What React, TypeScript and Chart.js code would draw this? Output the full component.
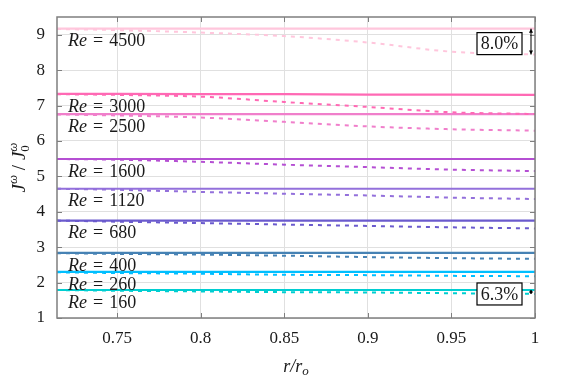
import React, { useEffect, useRef } from "react";
import { Chart, registerables } from "chart.js";

Chart.register(...registerables);

// ---- data ----
const radius = [0.714, 0.75, 0.8, 0.85, 0.9, 0.95, 1.0];
const reynolds = ["4500", "3000", "2500", "1600", "1120", "680", "400", "260", "160"];
const lineColors = ["#ffc6dc", "#ff69b4", "#f07fcb", "#b54fd3", "#9370db", "#6a5acd", "#4682b4", "#00bfff", "#00ced1"];

const solid4500 = [9.17, 9.17, 9.17, 9.17, 9.17, 9.17, 9.17];
const solid3000 = [7.33, 7.33, 7.32, 7.32, 7.31, 7.31, 7.30];
const solid2500 = [6.76, 6.76, 6.76, 6.76, 6.76, 6.76, 6.76];
const solid1600 = [5.49, 5.49, 5.49, 5.49, 5.49, 5.49, 5.49];
const solid1120 = [4.65, 4.65, 4.65, 4.65, 4.65, 4.65, 4.65];
const solid680 = [3.75, 3.75, 3.75, 3.75, 3.75, 3.75, 3.75];
const solid400 = [2.84, 2.84, 2.84, 2.84, 2.84, 2.84, 2.84];
const solid260 = [2.30, 2.30, 2.30, 2.30, 2.30, 2.30, 2.30];
const solid160 = [1.79, 1.79, 1.79, 1.79, 1.79, 1.79, 1.79];

const dashed4500 = [9.16, 9.13, 9.06, 8.96, 8.78, 8.52, 8.44];
const dashed3000 = [7.32, 7.30, 7.25, 7.10, 6.96, 6.81, 6.76];
const dashed2500 = [6.75, 6.72, 6.66, 6.54, 6.41, 6.33, 6.29];
const dashed1600 = [5.49, 5.47, 5.41, 5.33, 5.26, 5.19, 5.15];
const dashed1120 = [4.65, 4.62, 4.56, 4.51, 4.46, 4.40, 4.36];
const dashed680 = [3.75, 3.72, 3.68, 3.64, 3.60, 3.56, 3.53];
const dashed400 = [2.83, 2.81, 2.79, 2.76, 2.72, 2.69, 2.67];
const dashed260 = [2.29, 2.27, 2.25, 2.22, 2.21, 2.19, 2.18];
const dashed160 = [1.79, 1.77, 1.75, 1.73, 1.72, 1.70, 1.68];

const solidSeries = [solid4500, solid3000, solid2500, solid1600, solid1120, solid680, solid400, solid260, solid160];
const dashedSeries = [dashed4500, dashed3000, dashed2500, dashed1600, dashed1120, dashed680, dashed400, dashed260, dashed160];

const yTicks = [1, 2, 3, 4, 5, 6, 7, 8, 9];
const xTicks = [0.75, 0.8, 0.85, 0.9, 0.95, 1];
const xTickLabels = ["0.75", "0.8", "0.85", "0.9", "0.95", "1"];

// annotations: [series index, text]
const dropNotes: [number, string][] = [
  [0, "8.0%"],
  [8, "6.3%"],
];

const SERIF = '"Liberation Serif", "DejaVu Serif", serif';

const overlay = {
  id: "overlay",
  afterDraw(chart: any) {
    const ctx = chart.ctx as CanvasRenderingContext2D;
    const { left, right, top, bottom } = chart.chartArea;
    const xs = chart.scales.x;
    const ys = chart.scales.y;
    ctx.save();

    // box
    ctx.strokeStyle = "#7f7f7f";
    ctx.lineWidth = 1.5;
    ctx.strokeRect(left, top, right - left, bottom - top);
    // inward ticks
    ctx.lineWidth = 1;
    ctx.beginPath();
    yTicks.forEach((v) => {
      const y = Math.round(ys.getPixelForValue(v)) + 0.5;
      ctx.moveTo(left, y); ctx.lineTo(left + 5, y);
      ctx.moveTo(right, y); ctx.lineTo(right - 5, y);
    });
    xTicks.forEach((v) => {
      const x = Math.round(xs.getPixelForValue(v)) + 0.5;
      ctx.moveTo(x, bottom); ctx.lineTo(x, bottom - 5);
      ctx.moveTo(x, top); ctx.lineTo(x, top + 5);
    });
    ctx.stroke();

    // Re labels
    ctx.fillStyle = "#1a1a1a";
    ctx.textBaseline = "middle";
    reynolds.forEach((re, i) => {
      const yLine = ys.getPixelForValue(solidSeries[i][0]);
      const yc = yLine + 13;
      let x = left + 11;
      ctx.font = `italic 18px ${SERIF}`;
      ctx.textAlign = "left";
      ctx.fillText("Re", x, yc);
      x += ctx.measureText("Re").width + 6;
      ctx.font = `18px ${SERIF}`;
      ctx.fillText("=", x, yc);
      x += ctx.measureText("=").width + 6;
      ctx.fillText(re, x, yc);
    });

    // percentage notes with arrows
    dropNotes.forEach(([idx, txt]) => {
      const s = solidSeries[idx];
      const d = dashedSeries[idx];
      const n = s.length - 1;
      const ax = right - 4;
      const y1 = ys.getPixelForValue(s[n]);
      const y2 = ys.getPixelForValue(d[n]);
      ctx.strokeStyle = "#000";
      ctx.fillStyle = "#000";
      ctx.lineWidth = 1;
      ctx.beginPath();
      ctx.moveTo(ax, y1); ctx.lineTo(ax, y2);
      ctx.stroke();
      const h = Math.min(4, (y2 - y1) / 2);
      ctx.beginPath();
      ctx.moveTo(ax, y1); ctx.lineTo(ax - 2, y1 + h); ctx.lineTo(ax + 2, y1 + h); ctx.closePath();
      ctx.moveTo(ax, y2); ctx.lineTo(ax - 2, y2 - h); ctx.lineTo(ax + 2, y2 - h); ctx.closePath();
      ctx.fill();
      const cy = (y1 + y2) / 2 + 2;
      const bw = 45, bh = 22;
      const bx = right - 13 - bw;
      ctx.fillStyle = "#fff";
      ctx.fillRect(bx, cy - bh / 2, bw, bh);
      ctx.lineWidth = 1.2;
      ctx.strokeStyle = "#000";
      ctx.strokeRect(bx, cy - bh / 2, bw, bh);
      ctx.fillStyle = "#1a1a1a";
      ctx.font = `18px ${SERIF}`;
      ctx.textAlign = "center";
      ctx.textBaseline = "middle";
      ctx.fillText(txt, bx + bw / 2, cy + 1);
    });

    // x title r/r_o
    ctx.fillStyle = "#1a1a1a";
    ctx.textBaseline = "alphabetic";
    ctx.textAlign = "left";
    {
      const cx = (left + right) / 2;
      const base = 372;
      ctx.font = `italic 18px ${SERIF}`;
      const w1 = ctx.measureText("r/r").width;
      ctx.font = `italic 13px ${SERIF}`;
      const w2 = ctx.measureText("o").width;
      let x = cx - (w1 + w2) / 2;
      ctx.font = `italic 18px ${SERIF}`;
      ctx.fillText("r/r", x, base);
      x += w1;
      ctx.font = `italic 13px ${SERIF}`;
      ctx.fillText("o", x, base + 3);
    }

    // y title J^w / J_0^w (rotated)
    {
      ctx.translate(25, (top + bottom) / 2);
      ctx.rotate(-Math.PI / 2);
      const parts: [string, string, number][] = [
        ["J", `italic 19px ${SERIF}`, 0],
        ["ω", `italic 13px ${SERIF}`, -8],
        [" / ", `19px ${SERIF}`, 0],
        ["J", `italic 19px ${SERIF}`, 0],
      ];
      let total = 0;
      parts.forEach(([t, f]) => { ctx.font = f; total += ctx.measureText(t).width; });
      ctx.font = `italic 13px ${SERIF}`;
      const wsub = Math.max(ctx.measureText("ω").width, ctx.measureText("0").width);
      total += wsub;
      let x = -total / 2;
      parts.forEach(([t, f, dy]) => {
        ctx.font = f;
        ctx.fillText(t, x, dy);
        x += ctx.measureText(t).width;
      });
      ctx.font = `italic 13px ${SERIF}`;
      ctx.fillText("ω", x, -8);
      ctx.font = `13px ${SERIF}`;
      ctx.fillText("0", x, 4);
    }
    ctx.restore();
  },
};

export default function App() {
  const ref = useRef<HTMLCanvasElement | null>(null);

  useEffect(() => {
    document.body.style.margin = "0";
    if (!ref.current) return;
    const datasets: any[] = [];
    reynolds.forEach((re, i) => {
      datasets.push({
        label: `Re = ${re} (dashed)`,
        data: radius.map((r, k) => ({ x: r, y: dashedSeries[i][k] })),
        borderColor: lineColors[i],
        borderWidth: 2,
        borderDash: [4, 5],
        pointRadius: 0,
        cubicInterpolationMode: "monotone",
        fill: false,
      });
      datasets.push({
        label: `Re = ${re}`,
        data: radius.map((r, k) => ({ x: r, y: solidSeries[i][k] })),
        borderColor: lineColors[i],
        borderWidth: 2.2,
        pointRadius: 0,
        fill: false,
      });
    });

    const chart = new Chart(ref.current, {
      type: "line",
      data: { datasets },
      options: {
        responsive: false,
        animation: false,
        events: [],
        layout: { padding: { top: 17, right: 32, left: 0, bottom: 0 } },
        plugins: { legend: { display: false }, tooltip: { enabled: false } },
        scales: {
          x: {
            type: "linear",
            min: 0.714,
            max: 1,
            afterBuildTicks: (axis: any) => {
              axis.ticks = xTicks.map((v) => ({ value: v }));
            },
            afterFit: (axis: any) => {
              axis.height = 60;
              axis.paddingLeft = 0;
              axis.paddingRight = 0;
            },
            grid: { color: "#e0e0e0", lineWidth: 1, drawTicks: false },
            border: { display: false },
            ticks: {
              padding: 10,
              color: "#1a1a1a",
              font: { family: SERIF, size: 17 },
              maxRotation: 0,
              callback: (v: any) => {
                const k = xTicks.findIndex((t) => Math.abs(t - Number(v)) < 1e-6);
                return k >= 0 ? xTickLabels[k] : "";
              },
            },
          },
          y: {
            type: "linear",
            min: 1,
            max: 9.5,
            afterBuildTicks: (axis: any) => {
              axis.ticks = yTicks.map((v) => ({ value: v }));
            },
            afterFit: (axis: any) => {
              axis.width = 57;
              axis.paddingTop = 0;
              axis.paddingBottom = 0;
            },
            grid: { color: "#e0e0e0", lineWidth: 1, drawTicks: false },
            border: { display: false },
            ticks: {
              padding: 12,
              color: "#1a1a1a",
              font: { family: SERIF, size: 17 },
              callback: (v: any) => String(v),
            },
          },
        },
      },
      plugins: [overlay],
    });
    return () => chart.destroy();
  }, []);

  return (
    <div style={{ position: "fixed", left: 0, top: 0, width: 567, height: 378, background: "#fff" }}>
      <canvas ref={ref} width={567} height={378} />
    </div>
  );
}
